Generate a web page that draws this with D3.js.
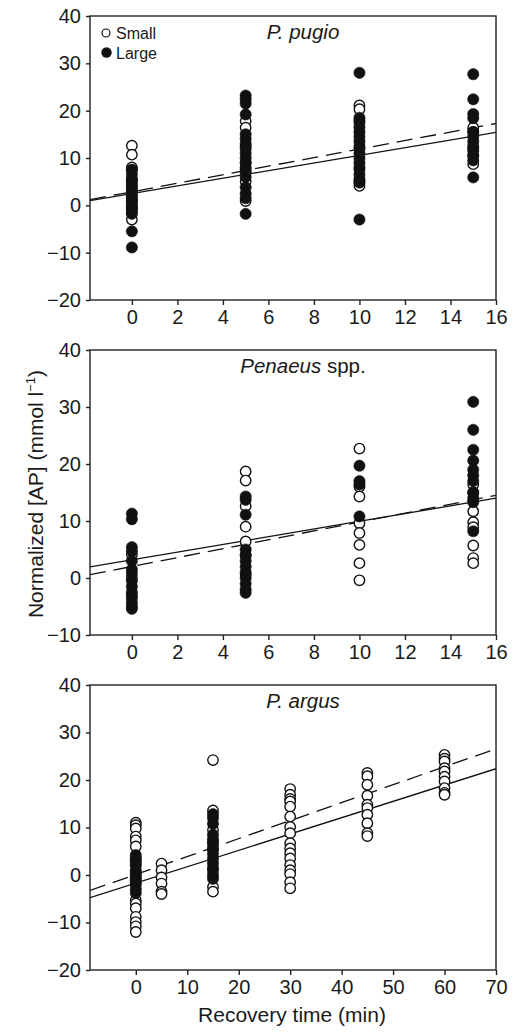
<!DOCTYPE html>
<html>
<head>
<meta charset="utf-8">
<script src="https://cdn.jsdelivr.net/npm/d3@7"></script>
<style>
  body { margin:0; background:#fff; }
  svg text { font-family: "Liberation Sans", Arial, sans-serif; fill:#1a1a1a; }
</style>
</head>
<body>
<svg id="chart" width="518" height="1032"></svg>
<script>
// ---- data ----
var pugioTimes=[0,5,10,15];
var pugioSmall=[
  [12.6,10.7,8.0,7.5,5.5,4.5,3.5,2.8,2.0,1.0,0.5,-0.5,-1.5,-3.0],
  [17.8,16.4,12.5,9.0,7.5,5.1,0.9],
  [21.1,20.3,18.0,12.5,7.6,5.0,4.1],
  [16.4,15.5,12.0,10.5,8.7]
];
var pugioLarge=[
  [7.5,6.5,5.5,5.0,4.0,3.0,2.5,1.5,1.0,0,-0.5,-1.0,-1.8,-5.5,-8.9],
  [23.2,22.4,21.5,19.2,15.0,14.0,13.0,12.0,11.0,10.0,9.0,8.0,7.0,6.0,3.8,2.5,1.5,-1.8],
  [28.0,18.5,17.5,16.5,15.5,14.5,13.5,12.0,11.0,10.0,9.0,8.0,6.5,5.5,4.8,-3.0],
  [27.7,22.4,19.3,18.4,15.5,14.5,13.5,12.5,11.5,10.5,9.5,5.9]
];

var penaeusTimes=[0,5,10,15];
var penaeusSmall=[
  [4.1,0.0,-3.0],
  [18.7,17.1,12.6,9.0,6.4,4.0,0.6],
  [22.7,16.0,14.3,9.6,7.9,5.8,2.6,-0.4],
  [16.4,15.0,11.7,9.8,8.9,5.7,3.5,2.6]
];
var penaeusLarge=[
  [11.3,10.3,5.4,4.7,3.0,1.5,0.8,-0.5,-1.5,-2.5,-3.5,-4.3,-5.0,-5.4],
  [14.3,13.7,11.1,5.0,4.0,3.0,2.0,1.0,0,-1.0,-2.0,-2.6],
  [19.7,17.0,16.4,10.8],
  [30.9,26.0,22.5,20.6,19.0,18.0,17.0,15.0,14.0,13.3,8.2]
];

var argusTimes=[0,5,15,30,45,60];
var argusSmall=[
  [11.0,10.5,9.8,8.1,7.3,6.0,2.5,0.5,-1.5,-5.3,-6.0,-7.0,-8.8,-9.9,-10.8,-12.0],
  [2.4,1.0,-0.5,-1.8,-3.5,-4.0],
  [24.2,13.6,9.5,7.0,5.5,1.0,-2.5,-3.5],
  [18.1,16.9,16.0,15.5,14.4,12.3,10.1,8.8,6.7,5.6,4.6,3.5,2.1,1.0,0.2,-1.5,-2.8],
  [21.5,20.8,19.0,16.7,14.8,14.1,12.7,10.9,8.8,8.2],
  [25.3,24.5,23.9,22.5,21.8,20.7,19.7,18.3,17.3,16.9]
];
var argusLarge=[
  [4.2,3.5,3.0,2.0,1.0,0.0,-0.5,-1.0,-2.0,-3.0,-3.8],
  [],
  [12.8,12.0,10.8,8.5,7.5,6.5,5.5,4.5,3.5,2.5,1.5,0,-0.8],
  [],[],[]
];

// regression fits [intercept, slope]
var pugioFits={solid:[2.49,0.807],dashed:[2.86,0.902]};
var penaeusFits={solid:[3.18,0.677],dashed:[2.02,0.780]};
var argusFits={solid:[-1.70,0.344],dashed:[0.11,0.378]};

var xTicksShort=[0,2,4,6,8,10,12,14,16];
var xTicksLong=[0,10,20,30,40,50,60,70];

// ---- layout ----
var svg=d3.select('#chart');
var left=90, right=496;
var fmt=d3.format('d');

var panels=[
  {title:[['P. pugio','italic']],times:pugioTimes,small:pugioSmall,large:pugioLarge,fits:pugioFits,
   xdom:[-1.84,16],xticks:xTicksShort,ydom:[-20,40],top:16,bottom:300,legend:true},
  {title:[['Penaeus','italic'],[' spp.','normal']],times:penaeusTimes,small:penaeusSmall,large:penaeusLarge,fits:penaeusFits,
   xdom:[-1.84,16],xticks:xTicksShort,ydom:[-10,40],top:350,bottom:635},
  {title:[['P. argus','italic']],times:argusTimes,small:argusSmall,large:argusLarge,fits:argusFits,
   xdom:[-8.9,70],xticks:xTicksLong,ydom:[-20,40],top:685,bottom:970}
];

panels.forEach(function(p) {
  var xs=d3.scaleLinear().domain(p.xdom).range([left,right]);
  var ys=d3.scaleLinear().domain(p.ydom).range([p.bottom,p.top]);
  var g=svg.append('g');

  // frame
  g.append('rect').attr('x',left).attr('y',p.top).attr('width',right-left).attr('height',p.bottom-p.top)
    .attr('fill','none').attr('stroke','#222').attr('stroke-width',1.4);

  var xa=g.append('g').attr('transform','translate(0,'+p.bottom+')')
    .call(d3.axisBottom(xs).tickValues(p.xticks).tickFormat(fmt).tickSize(5).tickPadding(5));
  var ya=g.append('g').attr('transform','translate('+left+',0)')
    .call(d3.axisLeft(ys).ticks(6).tickFormat(fmt).tickSize(4).tickPadding(5));
  [xa,ya].forEach(function(a) {
    a.select('.domain').remove();
    a.selectAll('line').attr('stroke','#222').attr('stroke-width',1.4);
    a.selectAll('text').style('font-size','20px').attr('fill','#1a1a1a');
  });

  // regression lines
  var clip='clip'+p.top;
  g.append('clipPath').attr('id',clip).append('rect')
    .attr('x',left).attr('y',p.top).attr('width',right-left).attr('height',p.bottom-p.top);
  ['solid','dashed'].forEach(function(k) {
    var f=p.fits[k];
    var line=d3.line().x(function(d){return xs(d);}).y(function(d){return ys(f[0]+f[1]*d);});
    g.append('path').attr('d',line(p.xdom)).attr('clip-path','url(#'+clip+')')
      .attr('fill','none').attr('stroke','#111').attr('stroke-width',1.3)
      .attr('stroke-dasharray',k=='dashed'?'16,8':null);
  });

  // points: small (open) first, large (filled) on top
  function pts(series,open) {
    var flat=[];
    series.forEach(function(vals,i){ vals.forEach(function(v){ flat.push({x:p.times[i],y:v}); }); });
    g.append('g').selectAll('circle').data(flat).enter().append('circle')
      .attr('cx',function(d){return xs(d.x);}).attr('cy',function(d){return ys(d.y);})
      .attr('r',open?5.2:5.6)
      .attr('fill',open?'#fff':'#111').attr('stroke','#111').attr('stroke-width',open?1.4:0.6);
  }
  pts(p.small,true);
  pts(p.large,false);

  // title
  var t=g.append('text').attr('x',303).attr('y',p.top+23).attr('text-anchor','middle').style('font-size','20.5px');
  p.title.forEach(function(s){ t.append('tspan').attr('font-style',s[1]).text(s[0]); });

  if (p.legend) {
    g.append('circle').attr('cx',106).attr('cy',33).attr('r',4).attr('fill','#fff').attr('stroke','#111').attr('stroke-width',1.2);
    g.append('circle').attr('cx',106.5).attr('cy',52.5).attr('r',5.2).attr('fill','#111');
    g.append('text').attr('x',116).attr('y',38.5).style('font-size','16px').text('Small');
    g.append('text').attr('x',116).attr('y',58.5).style('font-size','16px').text('Large');
  }
});

// axis titles
svg.append('text').attr('x',292).attr('y',1022).attr('text-anchor','middle').style('font-size','21px')
  .text('Recovery time (min)');
var yl=svg.append('text').attr('transform','translate(43,494) rotate(-90)').attr('text-anchor','middle').style('font-size','21px');
yl.append('tspan').text('Normalized [AP] (mmol l');
yl.append('tspan').attr('dy',-8).style('font-size','13px').text('\u22121');
yl.append('tspan').attr('dy',8).text(')');
</script>
</body>
</html>
